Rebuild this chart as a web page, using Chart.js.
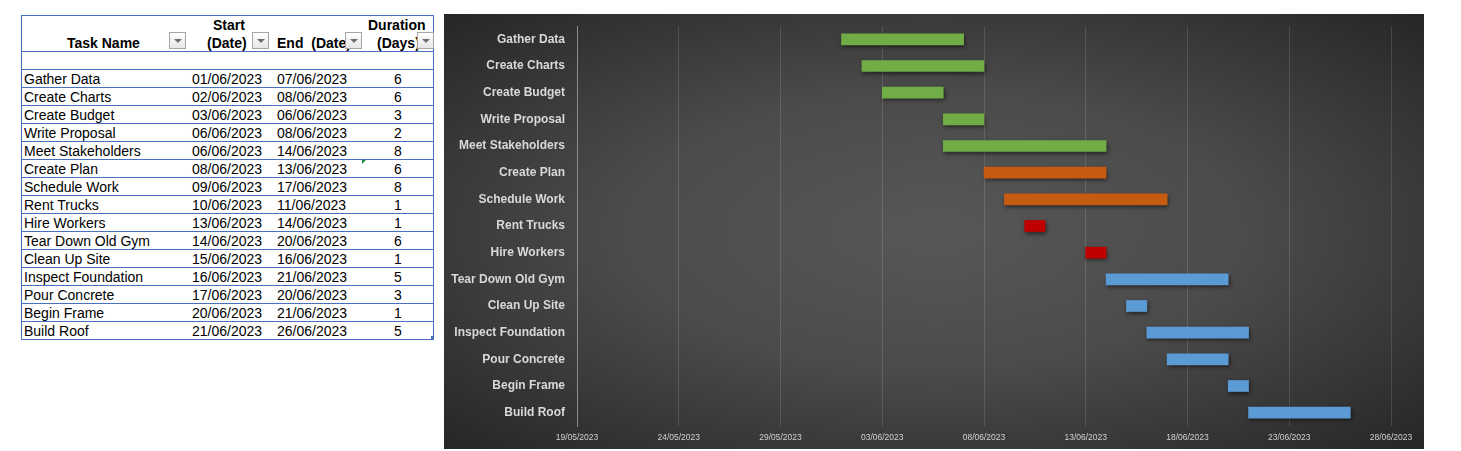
<!DOCTYPE html>
<html>
<head>
<meta charset="utf-8">
<script src="https://cdn.jsdelivr.net/npm/chart.js@4.4.0/dist/chart.umd.min.js"></script>
<style>
  body { margin: 0; background: #fff; font-family: 'Liberation Sans', Arial, sans-serif; }
  #sheet { position: absolute; left: 0; top: 0; width: 440px; height: 451px; font-size: 14px; color: #000; }
  .line { position: absolute; background: #4a70c2; }
  .txt { position: absolute; line-height: 18px; white-space: pre; }
  .hdr { font-weight: bold; }
  .btn { position: absolute; width: 15px; height: 15px; border: 1px solid #a6a6a6;
         background: linear-gradient(#ffffff, #e6e6e6); box-sizing: content-box; }
  .btn:after { content: ''; position: absolute; left: 4px; top: 6px; border-left: 4px solid transparent;
         border-right: 4px solid transparent; border-top: 4px solid #6d6d6d; }
  #panel { position: absolute; left: 444px; top: 14px; width: 980px; height: 435px;
           background: radial-gradient(ellipse farthest-corner at 50% 50%, #575757 0%, #4b4b4b 45%, #262626 100%); }
</style>
</head>
<body>
<div id="sheet"></div>
<div id="panel"><canvas id="gantt"></canvas></div>
<script>
const tasks = ['Gather Data', 'Create Charts', 'Create Budget', 'Write Proposal', 'Meet Stakeholders',
  'Create Plan', 'Schedule Work', 'Rent Trucks', 'Hire Workers', 'Tear Down Old Gym',
  'Clean Up Site', 'Inspect Foundation', 'Pour Concrete', 'Begin Frame', 'Build Roof'];
const startDates = ['01/06/2023', '02/06/2023', '03/06/2023', '06/06/2023', '06/06/2023',
  '08/06/2023', '09/06/2023', '10/06/2023', '13/06/2023', '14/06/2023',
  '15/06/2023', '16/06/2023', '17/06/2023', '20/06/2023', '21/06/2023'];
const endDates = ['07/06/2023', '08/06/2023', '06/06/2023', '08/06/2023', '14/06/2023',
  '13/06/2023', '17/06/2023', '11/06/2023', '14/06/2023', '20/06/2023',
  '16/06/2023', '21/06/2023', '20/06/2023', '21/06/2023', '26/06/2023'];
const durations = [6, 6, 3, 2, 8, 6, 8, 1, 1, 6, 1, 5, 3, 1, 5];
const phase = [0, 0, 0, 0, 0, 1, 1, 2, 2, 3, 3, 3, 3, 3, 3];
const xTickLabels = ['19/05/2023', '24/05/2023', '29/05/2023', '03/06/2023', '08/06/2023',
  '13/06/2023', '18/06/2023', '23/06/2023', '28/06/2023'];

const phaseColors = ['#70ad47', '#c55a11', '#c00000', '#5b9bd5'];

function toDay(s) {
  const [d, m, y] = s.split('/').map(Number);
  return Date.UTC(y, m - 1, d) / 86400000;
}

// ---- spreadsheet table on the left ----
const sheet = document.getElementById('sheet');
function add(cls, css, text) {
  const el = document.createElement('div');
  el.className = cls;
  Object.assign(el.style, css);
  if (text !== undefined) el.textContent = text;
  sheet.appendChild(el);
  return el;
}
const L = 21, R = 433, T = 15, rowTop = 69, rowH = 18;
const B = rowTop + rowH * tasks.length;
add('line', { left: L + 'px', top: T + 'px', width: (R - L + 1) + 'px', height: '1px' });
add('line', { left: L + 'px', top: B + 'px', width: (R - L + 1) + 'px', height: '1px' });
add('line', { left: L + 'px', top: T + 'px', width: '1px', height: (B - T) + 'px' });
add('line', { left: R + 'px', top: T + 'px', width: '1px', height: (B - T) + 'px' });
add('line', { left: L + 'px', top: '51px', width: (R - L) + 'px', height: '1px' });
for (let i = 0; i < tasks.length; i++) {
  add('line', { left: L + 'px', top: (rowTop + rowH * i) + 'px', width: (R - L) + 'px', height: '1px' });
}

add('txt hdr', { left: '213px', top: '16px' }, 'Start');
add('txt hdr', { left: '368px', top: '16px' }, 'Duration');
add('txt hdr', { left: '67px', top: '34px' }, 'Task Name');
add('txt hdr', { left: '207px', top: '34px' }, '(Date)');
add('txt hdr', { left: '277px', top: '34px' }, 'End  (Date)');
add('txt hdr', { left: '377px', top: '34px' }, '(Days)');
[169, 252, 345, 417].forEach(x => add('btn', { left: x + 'px', top: '32px' }));

tasks.forEach((t, i) => {
  const y = (rowTop + rowH * i + 1) + 'px';
  add('txt', { left: '24px', top: y }, t);
  add('txt', { left: '192px', top: y }, startDates[i]);
  add('txt', { left: '277px', top: y }, endDates[i]);
  add('txt', { left: '378px', top: y, width: '40px', textAlign: 'center' }, String(durations[i]));
});
// small markers seen in the sheet
add('', { position: 'absolute', left: '362px', top: '160px', width: 0, height: 0,
  borderTop: '4px solid #1e8c3a', borderRight: '4px solid transparent' });
add('', { position: 'absolute', left: '431px', top: (B - 3) + 'px', width: '3px', height: '3px', background: '#4a70c2' });

// ---- gantt chart ----
const barShadow = {
  id: 'barShadow',
  beforeDatasetsDraw(chart) {
    const ctx = chart.ctx;
    ctx.save();
    ctx.shadowColor = 'rgba(0,0,0,0.55)';
    ctx.shadowBlur = 4;
    ctx.shadowOffsetX = 1;
    ctx.shadowOffsetY = 2;
  },
  afterDatasetsDraw(chart) {
    chart.ctx.restore();
  }
};

// bars run from the start date for the given number of days
new Chart(document.getElementById('gantt'), {
  type: 'bar',
  data: {
    labels: tasks,
    datasets: [{
      data: tasks.map((t, i) => [toDay(startDates[i]), toDay(startDates[i]) + durations[i]]),
      backgroundColor: phase.map(p => phaseColors[p]),
      borderWidth: 0,
      borderSkipped: false,
      barThickness: 11
    }]
  },
  options: {
    indexAxis: 'y',
    responsive: true,
    maintainAspectRatio: false,
    animation: false,
    layout: { padding: { left: 0, top: 12, right: 33, bottom: 0 } },
    plugins: { legend: { display: false }, tooltip: { enabled: false } },
    scales: {
      x: {
        type: 'linear',
        min: toDay(xTickLabels[0]),
        max: toDay(xTickLabels[xTickLabels.length - 1]),
        afterBuildTicks(scale) {
          scale.ticks = xTickLabels.map(s => ({ value: toDay(s) }));
        },
        afterFit(scale) { scale.height = 23; },
        ticks: {
          autoSkip: false,
          maxRotation: 0,
          padding: 7,
          color: '#d0d0d0',
          font: { family: "'Liberation Sans', Arial, sans-serif", size: 8.5 },
          callback: (v, i) => xTickLabels[i]
        },
        grid: { color: 'rgba(255,255,255,0.13)', lineWidth: 1, drawTicks: false },
        border: { display: false }
      },
      y: {
        afterFit(scale) {
          scale.width = 133;
          scale.paddingTop = 0;
          scale.paddingBottom = 0;
        },
        ticks: {
          padding: 12,
          color: '#d9d9d9',
          font: { family: "'Liberation Sans', Arial, sans-serif", size: 12, weight: 'bold' }
        },
        grid: { display: false, drawTicks: false },
        border: { display: true, color: '#8c8c8c', width: 1 }
      }
    }
  },
  plugins: [barShadow]
});
</script>
</body>
</html>
